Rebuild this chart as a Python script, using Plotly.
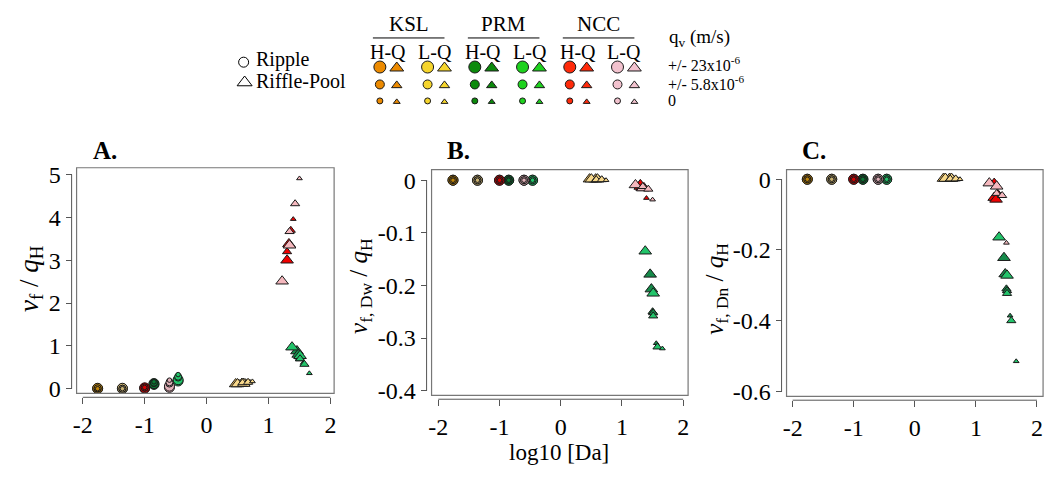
import plotly.graph_objects as go

W, H = 1058, 477

# ---- data -------------------------------------------------------------
groups = ["KSL H-Q", "KSL L-Q", "PRM H-Q", "PRM L-Q", "NCC H-Q", "NCC L-Q"]
sites = ["KSL", "PRM", "NCC"]
flows = ["H-Q", "L-Q"]
# vertical exchange flux levels (m/s), one value per point in every series below
qv = [-23e-6, 23e-6, -5.8e-6, 5.8e-6, 0.0]
qv_labels = ["+/- 23x10<sup>-6</sup>", "+/- 5.8x10<sup>-6</sup>", "0"]
x_ticks = [-2, -1, 0, 1, 2]

# Ripple morphology: log10 Damkohler number
ripple_logda = {
    "KSL H-Q": [-1.76, -1.76, -1.76, -1.76, -1.76],
    "KSL L-Q": [-1.36, -1.36, -1.36, -1.36, -1.36],
    "PRM H-Q": [-0.85, -0.85, -0.85, -0.85, -0.85],
    "PRM L-Q": [-0.46, -0.46, -0.46, -0.46, -0.46],
    "NCC H-Q": [-1.00, -1.00, -1.00, -1.00, -1.00],
    "NCC L-Q": [-0.60, -0.60, -0.60, -0.60, -0.60],
}
ripple_vf = {
    "KSL H-Q": [0.00, 0.01, 0.00, 0.01, 0.00],
    "KSL L-Q": [0.00, 0.01, 0.00, 0.00, 0.00],
    "PRM H-Q": [0.10, 0.12, 0.13, 0.14, 0.16],
    "PRM L-Q": [0.18, 0.21, 0.26, 0.28, 0.33],
    "NCC H-Q": [0.01, 0.02, 0.02, 0.03, 0.03],
    "NCC L-Q": [0.03, 0.06, 0.12, 0.15, 0.20],
}
ripple_vf_dw = {
    "KSL H-Q": [0.0, 0.0, 0.0, 0.0, 0.0],
    "KSL L-Q": [0.0, 0.0, 0.0, 0.0, 0.0],
    "PRM H-Q": [0.0, 0.0, 0.0, 0.0, 0.0],
    "PRM L-Q": [0.0, 0.0, 0.0, 0.0, 0.0],
    "NCC H-Q": [0.0, 0.0, 0.0, 0.0, 0.0],
    "NCC L-Q": [0.0, 0.0, 0.0, 0.0, 0.0],
}
ripple_vf_dn = {
    "KSL H-Q": [0.0, 0.0, 0.0, 0.0, 0.0],
    "KSL L-Q": [0.0, 0.0, 0.0, 0.0, 0.0],
    "PRM H-Q": [0.0, 0.0, 0.0, 0.0, 0.0],
    "PRM L-Q": [0.0, 0.0, 0.0, 0.0, 0.0],
    "NCC H-Q": [0.0, 0.0, 0.0, 0.0, 0.0],
    "NCC L-Q": [0.0, 0.0, 0.0, 0.0, 0.0],
}

# Riffle-pool morphology
riffle_logda = {
    "KSL H-Q": [0.47, 0.57, 0.52, 0.63, 0.70],
    "KSL L-Q": [0.50, 0.60, 0.58, 0.67, 0.74],
    "PRM H-Q": [1.46, 1.48, 1.50, 1.51, 1.56],
    "PRM L-Q": [1.38, 1.51, 1.51, 1.58, 1.66],
    "NCC H-Q": [1.30, 1.33, 1.30, 1.36, 1.40],
    "NCC L-Q": [1.22, 1.34, 1.34, 1.43, 1.50],
}
riffle_vf = {
    "KSL H-Q": [0.11, 0.12, 0.13, 0.14, 0.16],
    "KSL L-Q": [0.11, 0.12, 0.14, 0.15, 0.17],
    "PRM H-Q": [0.88, 0.80, 0.74, 0.70, 0.60],
    "PRM L-Q": [0.97, 0.77, 0.70, 0.57, 0.36],
    "NCC H-Q": [3.00, 3.38, 3.20, 3.70, 3.96],
    "NCC L-Q": [2.51, 3.35, 3.67, 4.32, 4.91],
}
riffle_vf_dw = {
    "KSL H-Q": [0.002, 0.002, 0.001, 0.001, 0.000],
    "KSL L-Q": [0.002, 0.002, 0.001, 0.001, 0.000],
    "PRM H-Q": [-0.179, -0.207, -0.250, -0.252, -0.310],
    "PRM L-Q": [-0.135, -0.215, -0.258, -0.317, -0.320],
    "NCC H-Q": [-0.012, -0.014, -0.006, -0.012, -0.034],
    "NCC L-Q": [-0.009, -0.015, -0.012, -0.017, -0.037],
}
riffle_vf_dn = {
    "KSL H-Q": [0.002, 0.002, 0.001, 0.001, 0.000],
    "KSL L-Q": [0.002, 0.002, 0.001, 0.001, 0.000],
    "PRM H-Q": [-0.222, -0.268, -0.310, -0.315, -0.386],
    "PRM L-Q": [-0.164, -0.272, -0.323, -0.400, -0.515],
    "NCC H-Q": [-0.052, -0.057, -0.008, -0.040, -0.045],
    "NCC L-Q": [-0.011, -0.020, -0.040, -0.046, -0.180],
}

# ---- styling ------------------------------------------------------------
legend_colors = {
    "KSL H-Q": "#EC8A00", "KSL L-Q": "#F6D52C",
    "PRM H-Q": "#0C8A0C", "PRM L-Q": "#1ED21E",
    "NCC H-Q": "#FF2A0A", "NCC L-Q": "#F2C2CE",
}
ripple_colors = {
    "KSL H-Q": "#C08408", "KSL L-Q": "#C8B070",
    "PRM H-Q": "#0A7A34", "PRM L-Q": "#22C46A",
    "NCC H-Q": "#D80000", "NCC L-Q": "#E0B0B8",
}
riffle_colors = {
    "KSL H-Q": "#F0C060", "KSL L-Q": "#F8D88A",
    "PRM H-Q": "#168A4A", "PRM L-Q": "#22C46A",
    "NCC H-Q": "#F00000", "NCC L-Q": "#F5B8BE",
}
FONT = "Liberation Serif, Times New Roman, serif"
AX_COL = "#555555"


def plot_size(q, tri):
    a = abs(q)
    if a > 1e-5:
        return 11 if tri else 10
    if a > 0:
        return 8 if tri else 7
    return 5 if tri else 4.5


def fx(px):
    return px / W


def fy(py):
    return 1 - py / H


panels = [
    dict(name="A.", box=(73, 332, 167, 400), xr=[-2.10, 2.06], yr=[-0.11, 5.16],
         yt=[0, 1, 2, 3, 4, 5], ytxt=["0", "1", "2", "3", "4", "5"],
         rip=ripple_vf, rif=riffle_vf,
         title="<i>v</i><sub>f</sub> / <i>q</i><sub>H</sub>", tpos=(27, 281), tsize=27),
    dict(name="B.", box=(430, 688, 169, 402), xr=[-2.11, 2.08], yr=[-0.409, 0.02],
         yt=[0, -0.1, -0.2, -0.3, -0.4], ytxt=["0", "-0.1", "-0.2", "-0.3", "-0.4"],
         rip=ripple_vf_dw, rif=riffle_vf_dw,
         title="<i>v</i><sub>f, Dw</sub> / <i>q</i><sub>H</sub>", tpos=(359, 289), tsize=25),
    dict(name="C.", box=(787, 1045, 169, 403), xr=[-2.10, 2.10], yr=[-0.614, 0.027],
         yt=[0, -0.2, -0.4, -0.6], ytxt=["0", "-0.2", "-0.4", "-0.6"],
         rip=ripple_vf_dn, rif=riffle_vf_dn,
         title="<i>v</i><sub>f, Dn</sub> / <i>q</i><sub>H</sub>", tpos=(717, 292), tsize=25),
]

fig = go.Figure()
layout = dict(
    width=W, height=H, autosize=False,
    margin=dict(l=0, r=0, t=0, b=0),
    paper_bgcolor="white", plot_bgcolor="rgba(0,0,0,0)",
    showlegend=False, font=dict(family=FONT, color="black", size=20),
)
shapes, annotations = [], []

for i, p in enumerate(panels, start=1):
    xa, ya = f"x{i}" if i > 1 else "x", f"y{i}" if i > 1 else "y"
    xl, yl = f"xaxis{i}" if i > 1 else "xaxis", f"yaxis{i}" if i > 1 else "yaxis"
    x0, x1, y0, y1 = p["box"]
    layout[xl] = dict(
        domain=[fx(x0), fx(x1)], range=p["xr"], anchor="free", position=fy(y1 + 4),
        showgrid=False, zeroline=False, showline=False,
        tickvals=x_ticks, ticktext=["-2", "-1", "0", "1", "2"],
        ticks="outside", ticklen=6, tickcolor=AX_COL, tickwidth=1,
        tickfont=dict(family=FONT, size=24, color="black"),
    )
    layout[yl] = dict(
        domain=[fy(y1), fy(y0)], range=p["yr"], anchor="free", position=fx(x0 - 5),
        showgrid=False, zeroline=False, showline=False,
        tickvals=p["yt"], ticktext=p["ytxt"],
        ticks="outside", ticklen=6, tickcolor=AX_COL, tickwidth=1,
        tickfont=dict(family=FONT, size=24, color="black"),
    )
    # plot frame
    shapes.append(dict(type="rect", xref=f"{xa} domain", yref=f"{ya} domain",
                       x0=0, x1=1, y0=0, y1=1, line=dict(color="#777777", width=1.2)))
    # axis lines spanning first to last tick
    shapes.append(dict(type="line", xref=xa, yref="paper",
                       x0=x_ticks[0], x1=x_ticks[-1], y0=fy(y1 + 4), y1=fy(y1 + 4),
                       line=dict(color=AX_COL, width=1)))
    shapes.append(dict(type="line", xref="paper", yref=ya,
                       x0=fx(x0 - 5), x1=fx(x0 - 5), y0=min(p["yt"]), y1=max(p["yt"]),
                       line=dict(color=AX_COL, width=1)))

    for morph, xs_d, ys_d, sym, cols in (
            ("Ripple", ripple_logda, p["rip"], "circle", ripple_colors),
            ("Riffle-Pool", riffle_logda, p["rif"], "triangle-up", riffle_colors)):
        tri = sym != "circle"
        for g in groups:
            fig.add_trace(go.Scatter(
                x=xs_d[g], y=ys_d[g], mode="markers", xaxis=xa, yaxis=ya,
                name=f"{g} {morph}",
                marker=dict(symbol=sym, size=[plot_size(q, tri) for q in qv], opacity=1,
                            color=cols[g], line=dict(color="#1a1a1a", width=1)),
                hoverinfo="skip",
            ))
    annotations.append(dict(text=f"<b>{p['name']}</b>", xref="paper", yref="paper",
                            x=fx(x0 + 14), y=fy(149), xanchor="left", yanchor="middle",
                            showarrow=False, font=dict(family=FONT, size=25)))
    annotations.append(dict(text=p["title"], xref="paper", yref="paper",
                            x=fx(p["tpos"][0]), y=fy(p["tpos"][1]), textangle=-90,
                            xanchor="center", yanchor="middle", showarrow=False,
                            font=dict(family=FONT, size=p["tsize"])))

annotations.append(dict(text="log10 [Da]", xref="paper", yref="paper",
                        x=fx(558), y=fy(461), xanchor="center", yanchor="middle",
                        showarrow=False, font=dict(family=FONT, size=23)))

# ---- key (pixel-space overlay axis) -----------------------------------
layout["xaxis4"] = dict(domain=[0, 1], range=[0, W], visible=False, fixedrange=True)
layout["yaxis4"] = dict(domain=[0, 1], range=[H, 0], visible=False, fixedrange=True)

row_y = [63, 81, 98]
circ_sizes = [12, 9, 6]
tri_sizes = [12, 9, 6]
site_cx = [407, 502.5, 598]
for si, s in enumerate(sites):
    cx = site_cx[si]
    annotations.append(dict(text=s, xref="x4", yref="y4", x=cx, y=19, showarrow=False,
                            xanchor="center", yanchor="middle", font=dict(family=FONT, size=21)))
    shapes.append(dict(type="line", xref="x4", yref="y4", x0=cx - 36, x1=cx + 36,
                       y0=33, y1=33, line=dict(color="black", width=1)))
    for fi, f in enumerate(flows):
        g = f"{s} {f}"
        lx = cx - 21 + 47 * fi
        annotations.append(dict(text=f, xref="x4", yref="y4", x=lx, y=48, showarrow=False,
                                xanchor="center", yanchor="middle", font=dict(family=FONT, size=20)))
        ccx = cx - 29 + 48 * fi
        fig.add_trace(go.Scatter(
            x=[ccx] * 3, y=row_y, mode="markers", xaxis="x4", yaxis="y4",
            marker=dict(symbol="circle", size=circ_sizes, color=legend_colors[g], opacity=1,
                        line=dict(color="#1a1a1a", width=1)), hoverinfo="skip"))
        fig.add_trace(go.Scatter(
            x=[ccx + 17] * 3, y=[r + 1 for r in row_y], mode="markers", xaxis="x4", yaxis="y4",
            marker=dict(symbol="triangle-up", size=tri_sizes, color=legend_colors[g], opacity=1,
                        line=dict(color="#1a1a1a", width=1)), hoverinfo="skip"))

fig.add_trace(go.Scatter(x=[241, 242], y=[58, 79], mode="markers", xaxis="x4", yaxis="y4",
                         marker=dict(symbol=["circle-open", "triangle-up-open"], size=[10, 13],
                                     color="black", opacity=1, line=dict(width=1)),
                         hoverinfo="skip"))
annotations.append(dict(text="Ripple", xref="x4", yref="y4", x=251, y=55, showarrow=False,
                        xanchor="left", yanchor="middle", font=dict(family=FONT, size=20)))
annotations.append(dict(text="Riffle-Pool", xref="x4", yref="y4", x=251, y=77, showarrow=False,
                        xanchor="left", yanchor="middle", font=dict(family=FONT, size=20)))
annotations.append(dict(text="q<sub>v</sub> (m/s)", xref="x4", yref="y4", x=667, y=33,
                        showarrow=False, xanchor="left", yanchor="middle",
                        font=dict(family=FONT, size=19)))
for lbl, ry in zip(qv_labels, [60, 80, 98]):
    annotations.append(dict(text=lbl, xref="x4", yref="y4", x=666, y=ry, showarrow=False,
                            xanchor="left", yanchor="middle", font=dict(family=FONT, size=16)))

layout["shapes"] = shapes
layout["annotations"] = annotations
fig.update_layout(**layout)
fig.write_html("out.html")
